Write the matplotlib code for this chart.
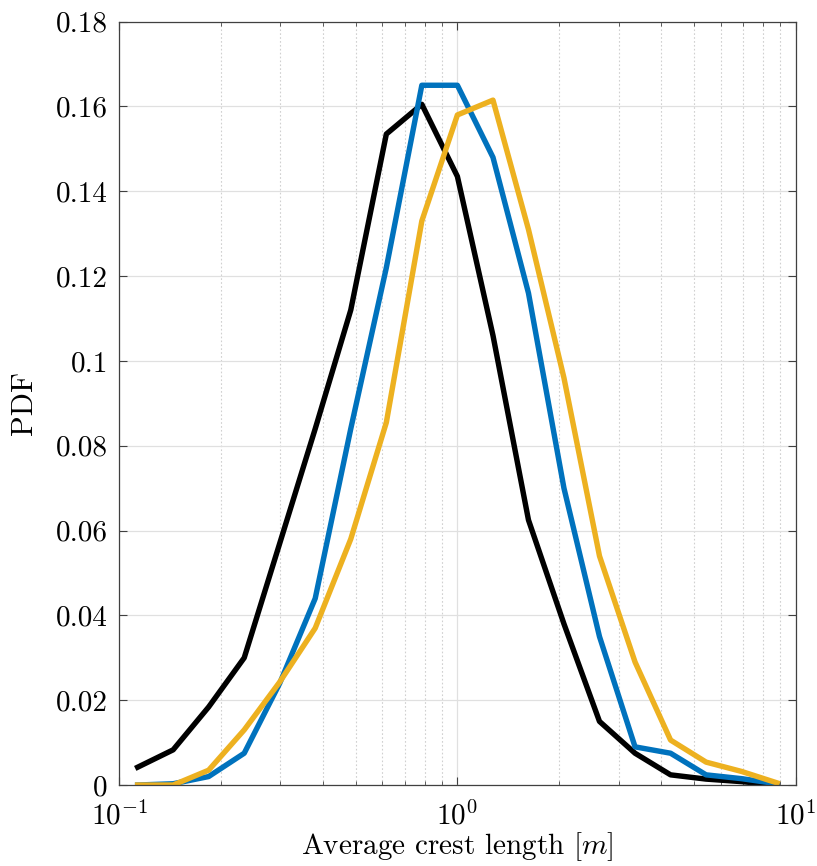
import numpy as np
import matplotlib
matplotlib.use("Agg")
import matplotlib.pyplot as plt

plt.rcParams['font.family'] = ['cmr10', 'DejaVu Serif']
plt.rcParams['mathtext.fontset'] = 'cm'
plt.rcParams['axes.formatter.use_mathtext'] = True

# Bin centres (average crest length, m)
crest_length = [0.1135, 0.1445, 0.184, 0.2344, 0.2985, 0.380, 0.484, 0.6166, 0.785, 1.0,
                1.274, 1.622, 2.065, 2.630, 3.350, 4.266, 5.433, 6.918, 8.81]

pdf_black = [0.0042, 0.0083, 0.0184, 0.030, 0.057, 0.084, 0.112, 0.1535, 0.1605, 0.1435,
             0.106, 0.0625, 0.038, 0.015, 0.0075, 0.0024, 0.0014, 0.0008, 0.0]
pdf_blue = [0.0, 0.0003, 0.002, 0.0075, 0.024, 0.044, 0.084, 0.122, 0.165, 0.165,
            0.148, 0.116, 0.070, 0.035, 0.009, 0.0075, 0.0024, 0.0015, 0.0003]
pdf_yellow = [0.0, 0.0, 0.0035, 0.013, 0.0243, 0.037, 0.058, 0.0855, 0.133, 0.158,
              0.1615, 0.131, 0.096, 0.054, 0.029, 0.0106, 0.0054, 0.0032, 0.0005]

y_ticks = [0, 0.02, 0.04, 0.06, 0.08, 0.1, 0.12, 0.14, 0.16, 0.18]
y_tick_labels = ['0', '0.02', '0.04', '0.06', '0.08', '0.1', '0.12', '0.14', '0.16', '0.18']
x_ticks = [0.1, 1, 10]
x_tick_labels = [r'$10^{-1}$', r'$10^{0}$', r'$10^{1}$']

fig = plt.figure(figsize=(8.17, 8.66), dpi=100)
ax = fig.add_axes([0.1457, 0.0935, 0.8283, 0.8815])

lw = 3.9
ax.plot(crest_length, pdf_black, color='black', lw=lw)
ax.plot(crest_length, pdf_blue, color='#0072BD', lw=lw)
ax.plot(crest_length, pdf_yellow, color='#EDB120', lw=lw)

ax.set_xscale('log')
ax.set_xlim(0.1, 10)
ax.set_ylim(0, 0.18)
ax.set_yticks(y_ticks)
ax.set_yticklabels(y_tick_labels)
ax.set_xticks(x_ticks)
ax.set_xticklabels(x_tick_labels)

ax.grid(True, which='major', color='#e0e0e0', lw=0.9, ls='-')
ax.grid(True, which='minor', axis='x', color='#d0d0d0', lw=0.8, ls=(0, (1.5, 2)))
ax.set_axisbelow(True)

ax.tick_params(which='both', direction='in', top=True, right=True, labelsize=21,
               color='#404040')
ax.tick_params(axis='y', which='major', pad=8)
ax.tick_params(axis='x', which='major', pad=12)
ax.tick_params(which='major', length=6, width=0.8)
ax.tick_params(which='minor', length=3, width=0.6)
for s in ax.spines.values():
    s.set_color('#404040')
    s.set_linewidth(0.9)

ax.set_xlabel(r'Average crest length $[m]$', fontsize=21)
ax.set_ylabel('PDF', fontsize=22)
ax.xaxis.set_label_coords(0.5, -0.059)
ax.yaxis.set_label_coords(-0.12, 0.5)

fig.savefig('out.png', dpi=100)
